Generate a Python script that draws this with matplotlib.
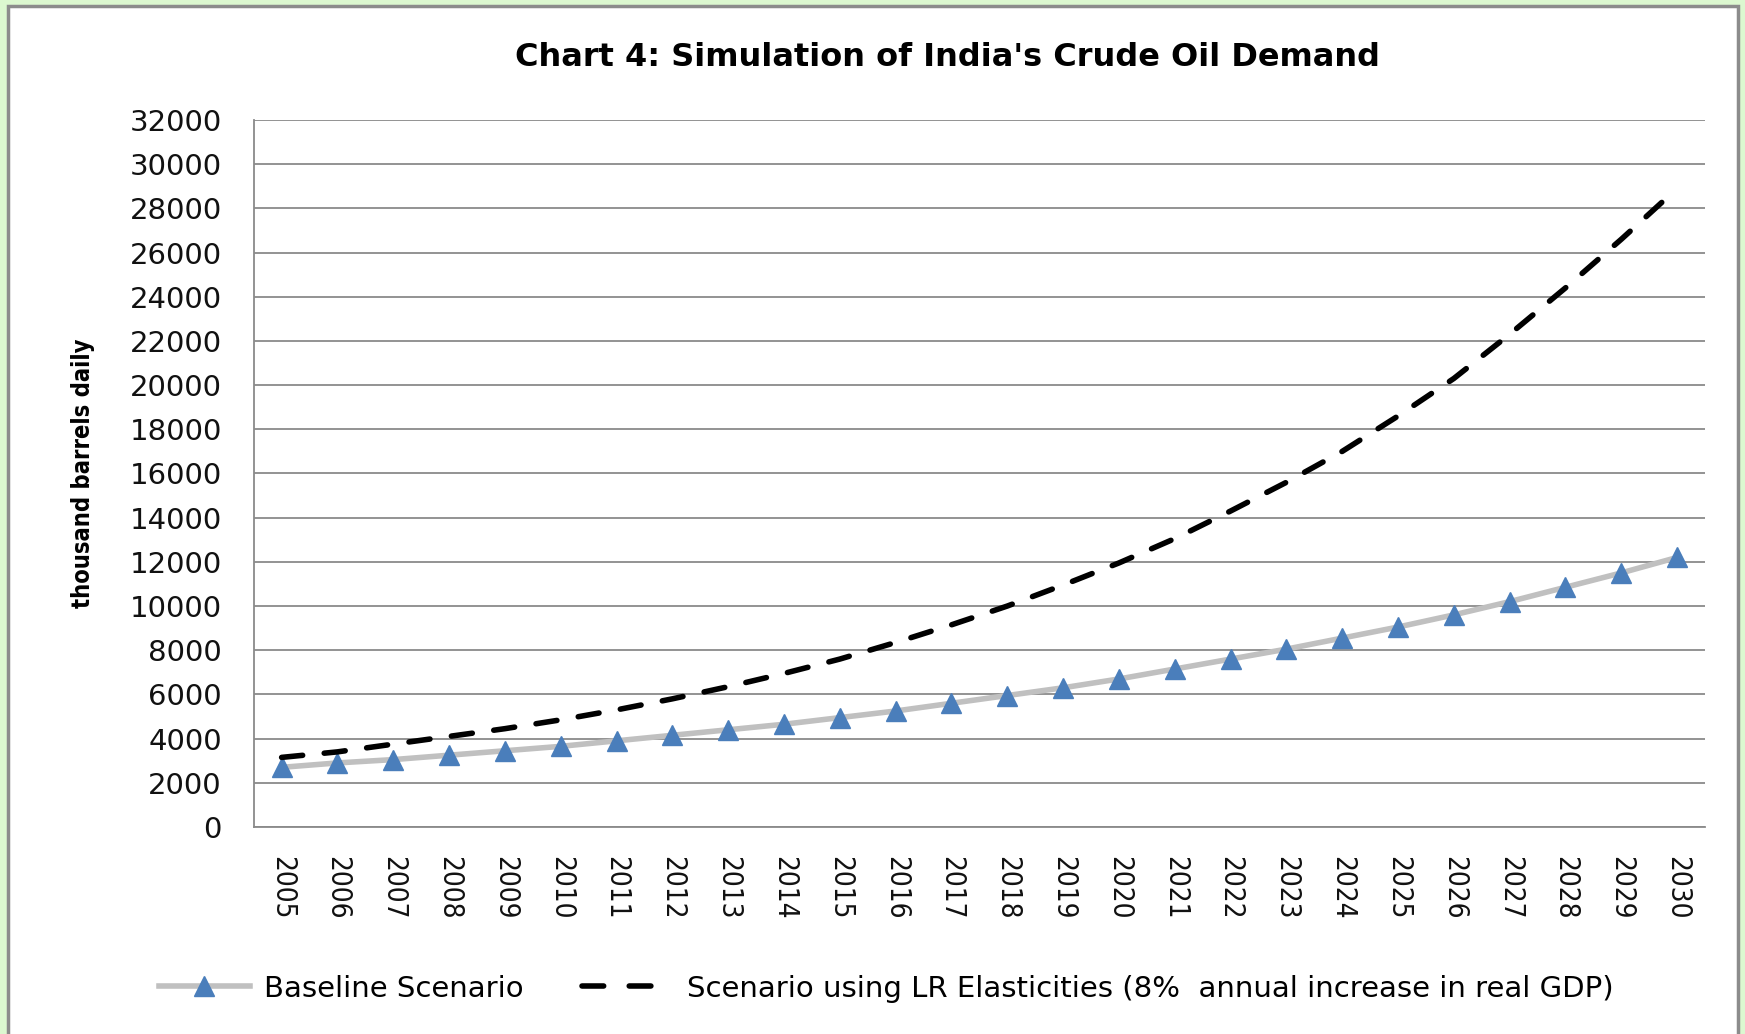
import numpy as np
import matplotlib
matplotlib.use('Agg')
import matplotlib.pyplot as plt
from matplotlib.patches import Rectangle
from matplotlib.lines import Line2D

years = [str(y) for y in range(2005, 2031)]
baseline = [2700, 2900, 3050, 3250, 3450, 3650, 3900, 4150, 4400, 4650,
            4950, 5250, 5600, 5950, 6300, 6700, 7150, 7600, 8050, 8550,
            9050, 9600, 10200, 10850, 11500, 12200]
lr_elast = [3150, 3400, 3750, 4100, 4450, 4850, 5300, 5800, 6350, 6950,
            7600, 8350, 9150, 10000, 10950, 11950, 13050, 14300, 15600, 17000,
            18600, 20300, 22300, 24400, 26600, 28900]
yticks = list(range(0, 32001, 2000))
names = ['Baseline Scenario',
         'Scenario using LR Elasticities (8%  annual increase in real GDP)']

fig = plt.figure(figsize=(17.45, 10.34), dpi=100)
fig.patch.set_facecolor('#dcf8d0')
# white chart panel with grey edge
fig.patches.append(Rectangle((8/1745, -0.01), 1730/1745, 1 - 6/1034 + 0.01,
                             transform=fig.transFigure, facecolor='white',
                             edgecolor='#8c8c8c', linewidth=2.5, zorder=-5))

ax = fig.add_axes([0.1454, 0.2002, 0.8317, 0.6838])
ax.patch.set_alpha(0)
x = np.arange(len(years))
l1, = ax.plot(x, baseline, color='#c0c0c0', lw=4, marker='^', ms=14,
              mfc='#4a7ebb', mec='#4a7ebb', zorder=3)
ax.plot(x, lr_elast, color='black', lw=4, dashes=(3.8, 3.9), dash_capstyle='round', zorder=4)

ax.set_xlim(-0.5, len(years) - 0.5)
ax.set_ylim(0, 32000)
ax.set_yticks(yticks)
ax.set_yticklabels([str(v) for v in yticks], fontsize=21)
ax.set_xticks(x)
ax.set_xticklabels(years, rotation=-90, fontsize=20, fontstretch='condensed')
ax.tick_params(length=0, colors='#111111')
ax.tick_params(axis='y', pad=23)
ax.tick_params(axis='x', pad=21)
ax.grid(axis='y', color='#8a8a8a', lw=1.3)
ax.set_axisbelow(True)
for s in ['top', 'right']:
    ax.spines[s].set_visible(False)
for s in ['left', 'bottom']:
    ax.spines[s].set_color('#8a8a8a')
    ax.spines[s].set_linewidth(1.3)

ax.set_ylabel('thousand barrels daily', fontsize=17, fontweight='bold',
              fontstretch='condensed', labelpad=25)
fig.text(0.5428, 0.944, "Chart 4: Simulation of India's Crude Oil Demand",
         ha='center', va='center', fontsize=23, fontweight='bold')

# legend proxy so the handle shows two dashes like the original
dash_proxy = Line2D([], [], color='black', lw=4, dashes=(3.9, 4.6), dash_capstyle='round')
fig.legend([l1, dash_proxy], names, loc='center', bbox_to_anchor=(0.508, 0.044),
           ncol=2, frameon=False, fontsize=21, handlelength=3.1,
           columnspacing=2.0, handletextpad=0.5)

fig.savefig('out.png', dpi=100)
